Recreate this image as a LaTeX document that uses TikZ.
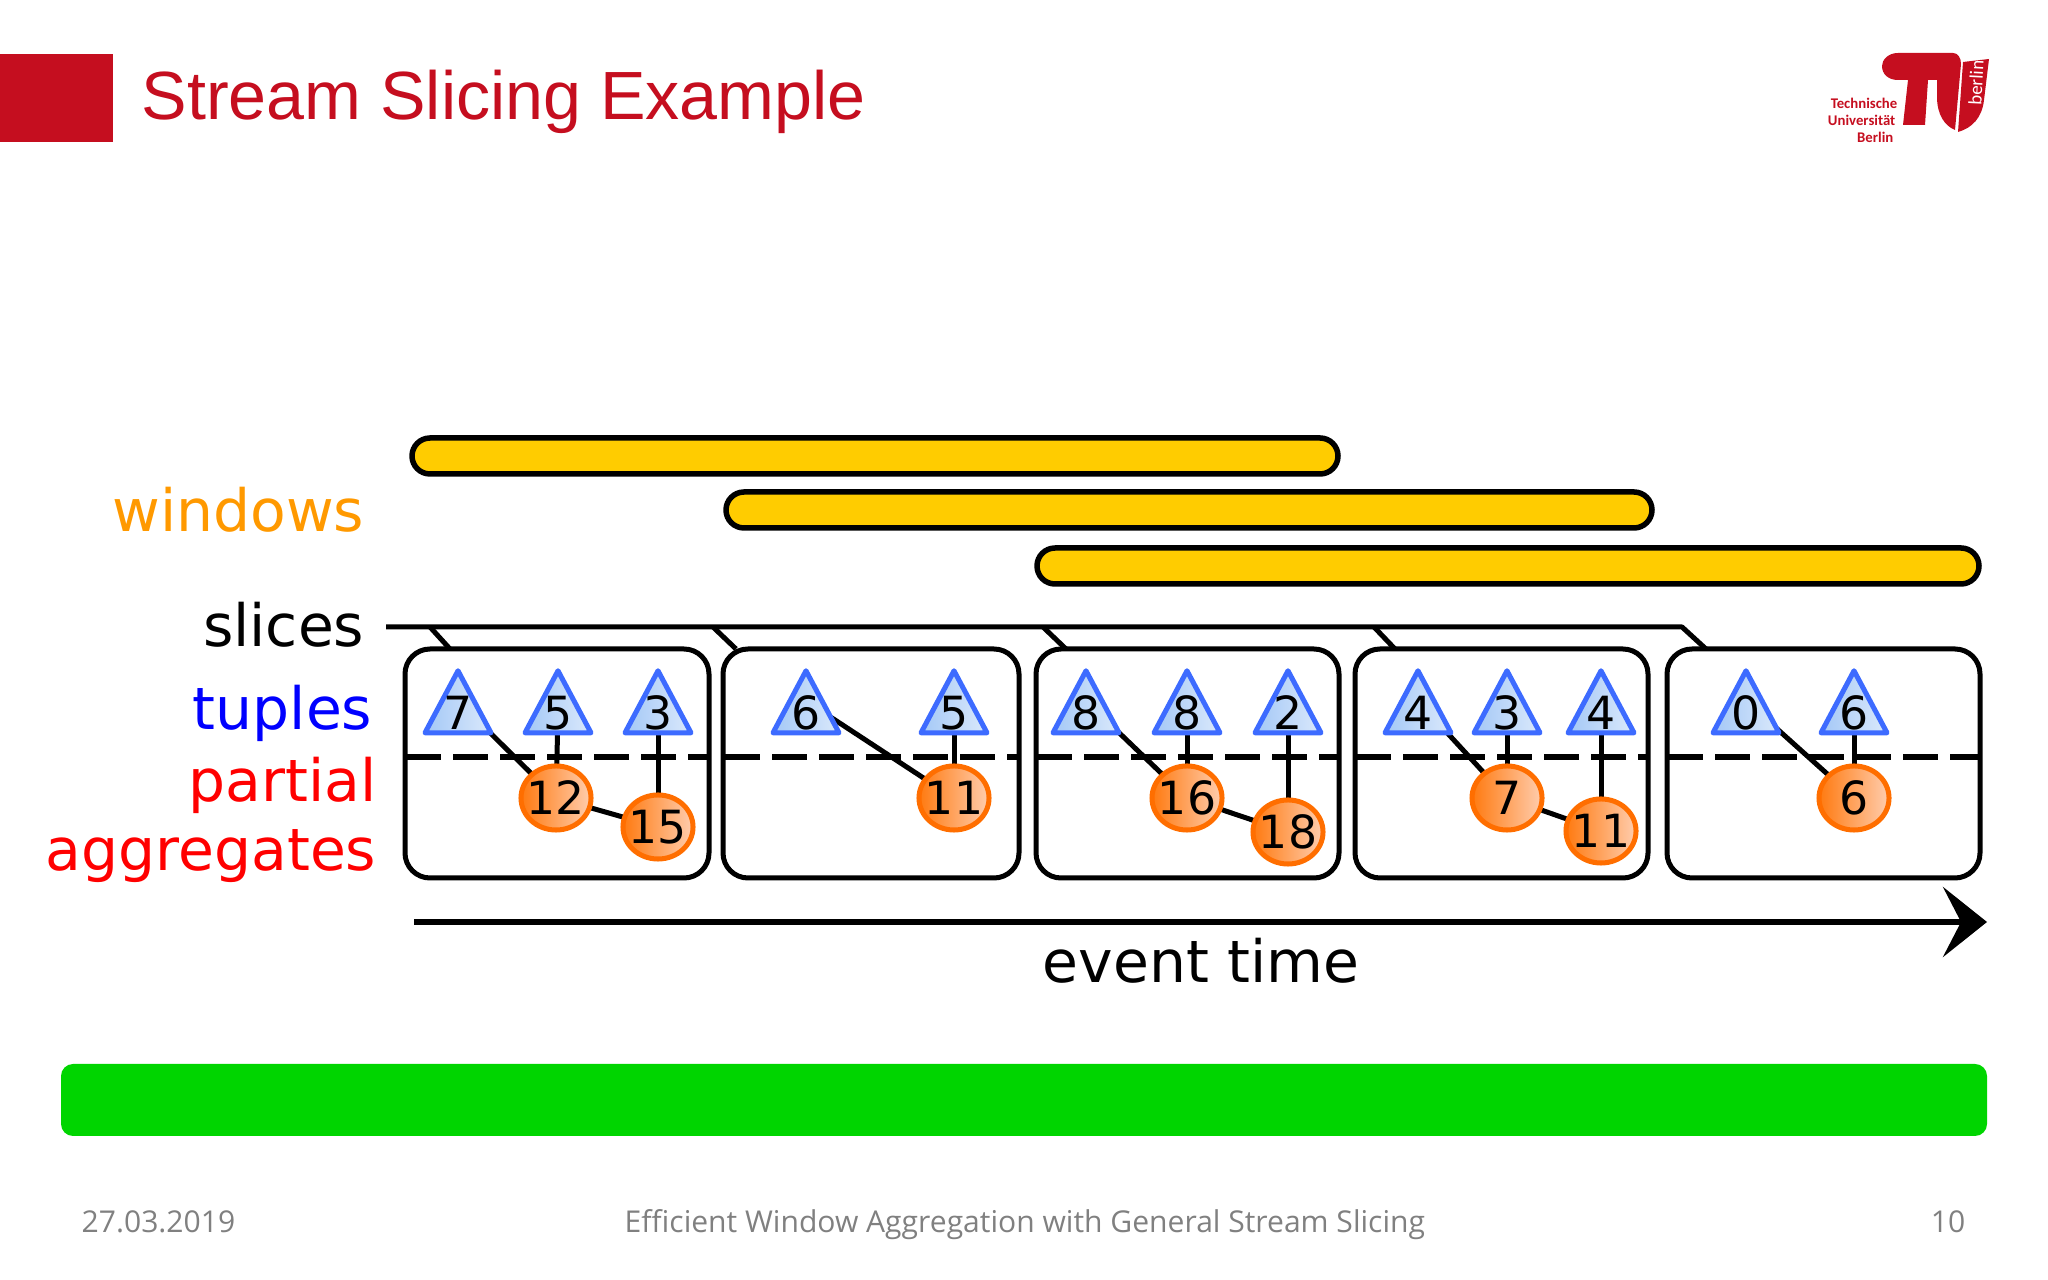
\documentclass[tikz,border=0pt]{standalone}
\usepackage{fontspec}
\setmainfont{DejaVu Sans}
\newfontfamily\titlefont{Liberation Sans}
\newfontfamily\footfont{Open Sans}
\newfontfamily\logofont{Carlito}
\usepackage{tikz}
\usetikzlibrary{arrows.meta,shapes.geometric,backgrounds}
\definecolor{tured}{HTML}{C50E1F}
\definecolor{winyellow}{HTML}{FFCC00}
\definecolor{winorange}{HTML}{FF9900}
\definecolor{greenbar}{HTML}{00D500}
\definecolor{tupleblue}{HTML}{3D6BFF}
\definecolor{tupleleft}{HTML}{A4C8F6}
\definecolor{tupleright}{HTML}{DAE9FB}
\definecolor{aggrline}{HTML}{FF6E00}
\definecolor{aggrleft}{HTML}{FF7A10}
\definecolor{aggrright}{HTML}{FFCDAE}
\definecolor{footgray}{HTML}{808080}

\begin{document}
\begin{tikzpicture}[
x=0.01cm,y=-0.01cm,
winbar/.style={draw=black,fill=winyellow,line width=0.055cm,rounded corners=0.18cm},
slicebox/.style={draw=black,line width=0.05cm,rounded corners=0.25cm},
sideword/.style={anchor=base east,inner sep=0pt,font=\fontsize{16.6}{20}\selectfont},
footword/.style={inner sep=0pt,text=footgray,font=\footfont\fontsize{8.55}{10}\selectfont},
logoword/.style={anchor=base east,inner sep=0pt,text=tured,font=\logofont\bfseries\fontsize{4.2}{5}\selectfont},
tuple/.style={isosceles triangle,isosceles triangle stretches,shape border rotate=90,
  minimum width=0.66cm,minimum height=0.62cm,inner sep=0pt,draw=tupleblue,line width=0.05cm,
  line join=round,left color=tupleleft,right color=tupleright},
digit/.style={inner sep=0pt,font=\fontsize{13}{15}\selectfont},
aggr/.style={ellipse,minimum width=0.70cm,minimum height=0.64cm,inner ysep=0pt,inner xsep=-0.1cm,draw=aggrline,
  line width=0.05cm,left color=aggrleft,right color=aggrright,font=\fontsize{13}{15}\selectfont},
link/.style={line width=0.05cm}
]
    % Header
    \fill [tured] (0,54) rectangle (113,142);
    \node [anchor=base west,inner sep=0pt,text=tured,font=\titlefont\fontsize{19.4}{22}\selectfont] (title) at (141,120) {Stream Slicing Example};

    % Logo
    \fill [tured] (1953,53) -- (1898,53) .. controls (1888,53) and (1882,60) .. (1882,66)
        .. controls (1882,74) and (1888,80) .. (1898,80) -- (1908,80) -- (1903,125) -- (1925,125)
        -- (1928,80) -- (1937,80) -- (1937,97) .. controls (1937,115) and (1945,126) .. (1955,130)
        -- (1961,64) .. controls (1961,58) and (1958,53) .. (1953,53) -- cycle;
    \fill [tured] (1963,62) -- (1989,59) -- (1984,100) .. controls (1982,118) and (1972,128) .. (1958,132) -- cycle;
    \node [inner sep=0pt,text=white,rotate=87,font=\logofont\fontsize{5.4}{6}\selectfont] (logoside) at (1976,83) {berlin};
    \node [logoword] (logoa) at (1898,109) {Technische};
    \node [logoword] (logob) at (1896,126) {Universität};
    \node [logoword] (logoc) at (1894,143) {Berlin};

    % Windows
    \draw [winbar] (412,438) rectangle (1338,474);
    \draw [winbar] (726,492) rectangle (1652,528);
    \draw [winbar] (1037,548) rectangle (1979,584);

    % Side labels
    \node [sideword,text=winorange] (windows) at (365,532) {windows};
    \node [sideword] (slices) at (365,647) {slices};
    \node [sideword,text=blue] (tuples) at (373,730) {tuples};
    \node [sideword,text=red] (partial) at (377,802) {partial};
    \node [sideword,text=red] (aggregates) at (377,871) {aggregates};

    % Slice boxes
    \draw [slicebox] (405,649) rectangle (709,878);
    \draw [slicebox] (723,649) rectangle (1019,878);
    \draw [slicebox] (1036,649) rectangle (1339,878);
    \draw [slicebox] (1355,649) rectangle (1648,878);
    \draw [slicebox] (1667,649) rectangle (1980,878);
    \draw [line width=0.055cm,dash pattern=on 0.345cm off 0.125cm]
        (406,757) -- (708,757) (725,757) -- (1018,757) (1037,757) -- (1338,757)
        (1356,757) -- (1647,757) (1668,757) -- (1979,757);

    % Slice line with its ticks
    \draw
        (386,627) coordinate (S0)
        (1682,627) coordinate (S5)
        (1706,649) coordinate (E5);
    \draw [line width=0.05cm,line join=round] (S0) -- (S5) -- (E5);
    \draw [line width=0.05cm] (430,627) -- (450,649);
    \draw [line width=0.05cm] (713,627) -- (736,649);
    \draw [line width=0.05cm] (1043,627) -- (1066,649);
    \draw [line width=0.05cm] (1374,627) -- (1395,649);

    % Tuples
    \node [tuple] (t1) at (458,713) {};
    \node [tuple] (t2) at (558,713) {};
    \node [tuple] (t3) at (658,713) {};
    \node [tuple] (t4) at (806,713) {};
    \node [tuple] (t5) at (954,713) {};
    \node [tuple] (t6) at (1086,713) {};
    \node [tuple] (t7) at (1187,713) {};
    \node [tuple] (t8) at (1288,713) {};
    \node [tuple] (t9) at (1418,713) {};
    \node [tuple] (t10) at (1507,713) {};
    \node [tuple] (t11) at (1601,713) {};
    \node [tuple] (t12) at (1746,713) {};
    \node [tuple] (t13) at (1854,713) {};

    \node [digit] (d1) at (t1) {7};
    \node [digit] (d2) at (t2) {5};
    \node [digit] (d3) at (t3) {3};
    \node [digit] (d4) at (t4) {6};
    \node [digit] (d5) at (t5) {5};
    \node [digit] (d6) at (t6) {8};
    \node [digit] (d7) at (t7) {8};
    \node [digit] (d8) at (t8) {2};
    \node [digit] (d9) at (t9) {4};
    \node [digit] (d10) at (t10) {3};
    \node [digit] (d11) at (t11) {4};
    \node [digit] (d12) at (t12) {0};
    \node [digit] (d13) at (t13) {6};

    % Partial aggregates
    \node [aggr] (a1) at (556,798) {12};
    \node [aggr] (a2) at (658,827) {15};
    \node [aggr] (a3) at (954,798) {11};
    \node [aggr] (a4) at (1187,798) {16};
    \node [aggr] (a5) at (1288,832) {18};
    \node [aggr] (a6) at (1507,798) {7};
    \node [aggr] (a7) at (1601,831) {11};
    \node [aggr] (a8) at (1854,798) {6};

    % Links
    \begin{scope}[on background layer]
    \draw [link] ([yshift=0.12cm]t1.center) -- (a1.center);
    \draw [link] (t2.center) -- (a1.center);
    \draw [link] (t3.center) -- (a2.center);
    \draw [link] (a1.center) -- (a2.center);
    \draw [link] ([yshift=0.12cm]t4.center) -- (a3.center);
    \draw [link] (t5.center) -- (a3.center);
    \draw [link] ([yshift=0.12cm]t6.center) -- (a4.center);
    \draw [link] (t7.center) -- (a4.center);
    \draw [link] (t8.center) -- (a5.center);
    \draw [link] (a4.center) -- (a5.center);
    \draw [link] ([yshift=0.12cm]t9.center) -- (a6.center);
    \draw [link] (t10.center) -- (a6.center);
    \draw [link] (t11.center) -- (a7.center);
    \draw [link] (a6.center) -- (a7.center);
    \draw [link] ([yshift=0.12cm]t12.center) -- (a8.center);
    \draw [link] (t13.center) -- (a8.center);
    \end{scope}

    % Event time
    \draw [line width=0.055cm,-{Stealth[length=0.44cm,width=0.7cm,inset=0.18cm]}] (414,922) -- (1987,922);
    \node [anchor=base west,inner sep=0pt,font=\fontsize{16.6}{20}\selectfont] (eventtime) at (1042,983) {event time};

    % Green bar and footer
    \fill [greenbar,rounded corners=0.12cm] (61,1064) rectangle (1987,1136);
    \node [footword,anchor=base west] (date) at (81,1233) {27.03.2019};
    \node [footword,anchor=base west] (foottitle) at (624,1233) {Efficient Window Aggregation with General Stream Slicing};
    \node [footword,anchor=base east] (pagenum) at (1966,1233) {10};

    \useasboundingbox (0,0) rectangle (2048,1280);
\end{tikzpicture}
\end{document}
